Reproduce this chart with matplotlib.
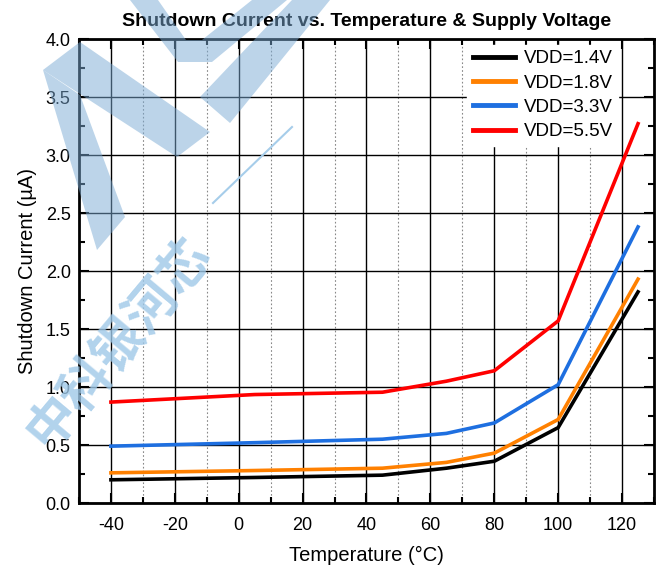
import matplotlib
matplotlib.use("Agg")
import matplotlib.pyplot as plt
from matplotlib.patches import Polygon
from matplotlib.lines import Line2D
from matplotlib.ticker import MultipleLocator

plt.rcParams["font.family"] = ["Liberation Sans", "Noto Sans CJK SC", "DejaVu Sans"]
plt.rcParams["axes.unicode_minus"] = False

temps = [-40, 5, 45, 65, 80, 100, 125]
i_vdd14 = [0.20, 0.22, 0.24, 0.30, 0.36, 0.65, 1.82]
i_vdd18 = [0.26, 0.28, 0.30, 0.35, 0.43, 0.72, 1.93]
i_vdd33 = [0.49, 0.52, 0.55, 0.60, 0.69, 1.02, 2.38]
i_vdd55 = [0.87, 0.935, 0.955, 1.05, 1.14, 1.57, 3.27]

series = [
    ("VDD=1.4V", i_vdd14, "#000000"),
    ("VDD=1.8V", i_vdd18, "#ff8000"),
    ("VDD=3.3V", i_vdd33, "#1e6fe0"),
    ("VDD=5.5V", i_vdd55, "#ff0000"),
]

W, H = 661, 571
fig = plt.figure(figsize=(W / 100, H / 100), dpi=100)
ax = fig.add_axes([79 / W, 1 - 503 / H, (654 - 79) / W, (503 - 39) / H])

for label, vals, color in series:
    ax.plot(temps, vals, color=color, linewidth=2.6, label=label, zorder=3,
            solid_joinstyle="miter")

ax.set_xlim(-50, 130)
ax.set_ylim(0, 4.0)
ax.xaxis.set_major_locator(MultipleLocator(20))
ax.xaxis.set_minor_locator(MultipleLocator(10))
ax.yaxis.set_major_locator(MultipleLocator(0.5))
ax.yaxis.set_minor_locator(MultipleLocator(0.25))
ax.yaxis.set_major_formatter(plt.FuncFormatter(lambda v, _: f"{v:.1f}"))

ax.grid(which="major", color="black", linewidth=1.0, zorder=1)
ax.grid(which="minor", axis="x", color="#888888", linestyle=(0, (1.5, 2)),
        linewidth=0.8, zorder=1)
ax.set_axisbelow(True)

ax.tick_params(which="both", direction="in", top=True, right=True,
               width=1.5, labelsize=13)
ax.tick_params(axis="x", pad=10)
ax.tick_params(axis="y", pad=6)
ax.tick_params(which="major", length=7)
ax.tick_params(which="minor", length=4)
for s in ax.spines.values():
    s.set_linewidth(2)

ax.set_xlabel("Temperature (°C)", fontsize=14.5, labelpad=9)
ax.set_ylabel("Shutdown Current (µA)", fontsize=14.5, labelpad=6)
ax.set_title("Shutdown Current vs. Temperature & Supply Voltage",
             fontsize=14, fontweight="bold", pad=9)

leg = ax.legend(loc="upper right", fontsize=13.5, frameon=True, fancybox=False,
                edgecolor="white", framealpha=1, handlelength=2.25,
                handletextpad=0.45, labelspacing=0.38, borderaxespad=0.3,
                borderpad=0.3, bbox_to_anchor=(0.948, 1.0))
for h in leg.get_lines():
    h.set_linewidth(3.5)

# watermark (light blue logo strokes and company name)
def px(points):
    return [(x / W, 1 - y / H) for x, y in points]

wm_color = "#7aaad4"
bands = [
    [(43, 70), (80, 42), (210, 132), (177, 157)],
    [(43, 70), (80, 95), (125, 217), (97, 250)],
    [(130, 0), (158, 0), (186, 40), (202, 40), (252, 0), (287, 0), (212, 62), (178, 62)],
    [(200, 97), (292, 0), (330, 0), (230, 123)],
]
for b in bands:
    fig.add_artist(Polygon(px(b), closed=True, transform=fig.transFigure,
                           facecolor=wm_color, edgecolor="none", alpha=0.5,
                           zorder=10))
fig.add_artist(Line2D([213 / W, 292 / W], [1 - 203 / H, 1 - 127 / H],
                      color="#a6cdea", linewidth=1.5, zorder=10))
fig.text(118 / W, 1 - 342 / H, "中科银河芯", fontsize=37, fontweight="bold",
         color="#9ec8e8", alpha=0.8, rotation=50, ha="center", va="center",
         family=["Noto Sans CJK SC", "DejaVu Sans"], zorder=11)

fig.savefig("out.png", dpi=100, facecolor="white")
